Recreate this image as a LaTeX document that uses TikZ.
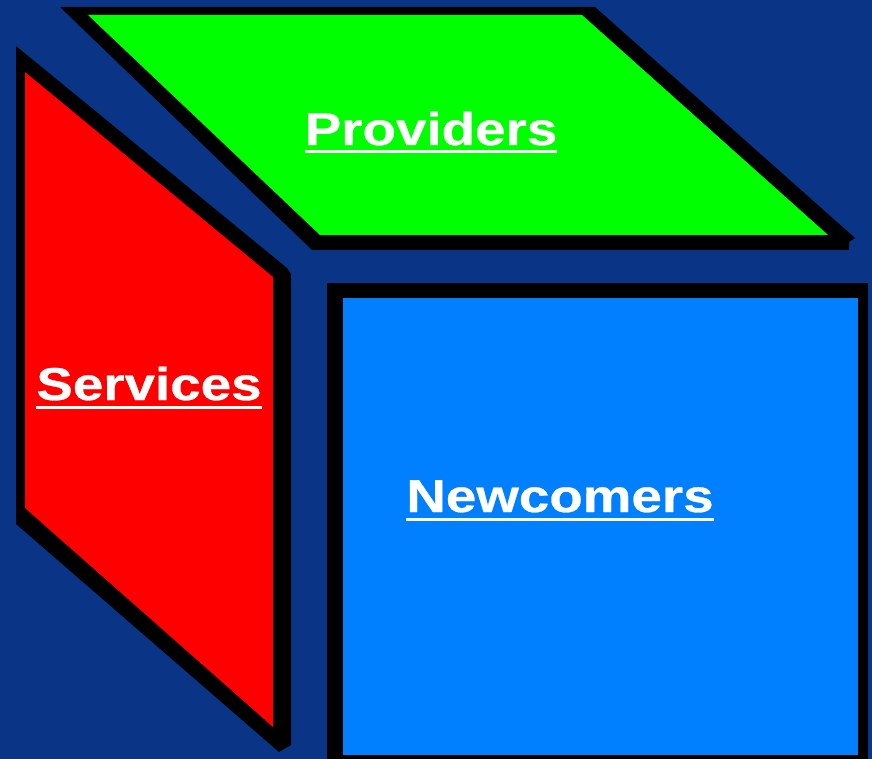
\documentclass[tikz,border=0pt]{standalone}
\usepackage{fontspec}
\newfontfamily\facefont{Liberation Sans}[FakeStretch=1.19,FakeBold=0.6]
\usetikzlibrary{positioning}
\definecolor{navy}{RGB}{10,53,135}
\definecolor{topgreen}{RGB}{0,255,0}
\definecolor{sidered}{RGB}{255,0,0}
\definecolor{frontblue}{RGB}{0,128,255}
\tikzset{
    %Define style for the black rims
    rim/.style={
           fill=black},
    %Define style for the coloured faces
    face/.style={
           fill=#1},
    facetext/.style={
           text=white,
           inner sep=0pt,
           anchor=base,
           font=\facefont\bfseries\fontsize{46}{46}\selectfont},
    % Define underline style
    underbar/.style={
           draw=white,
           line width=3pt},
}
\begin{document}
\begin{tikzpicture}[x=1pt,y=-1pt]
\fill[navy] (0,0) rectangle (872,759);
\useasboundingbox (0,0) rectangle (872,759);
% top face
\path[rim] (60,7) -- (595,7) -- (855,238) -- (849,242) -- (849,250) -- (312,250) -- cycle;
\path[face=topgreen] (88,15) -- (582,15) -- (828,235) -- (320,235) -- cycle;
% side face
\path[rim] (16,46) -- (287,268) -- (291,274) -- (291,745) -- (279,752) -- (16,524) -- cycle;
\path[face=sidered] (25,72) -- (273,277) -- (273,727) -- (25,508) -- cycle;
% front face
\path[rim] (327,283) rectangle (868,759);
\path[face=frontblue] (343,298) rectangle (858,755);
\node[facetext] (prov) at (431,145) {Providers};
\node[facetext] (serv) at (149,400) {Services};
\node[facetext] (newc) at (560,512) {Newcomers};
\foreach \n in {prov,serv,newc}
    \draw[underbar] ([yshift=-7pt]\n.base west) -- ([yshift=-7pt]\n.base east);
\end{tikzpicture}
\end{document}
